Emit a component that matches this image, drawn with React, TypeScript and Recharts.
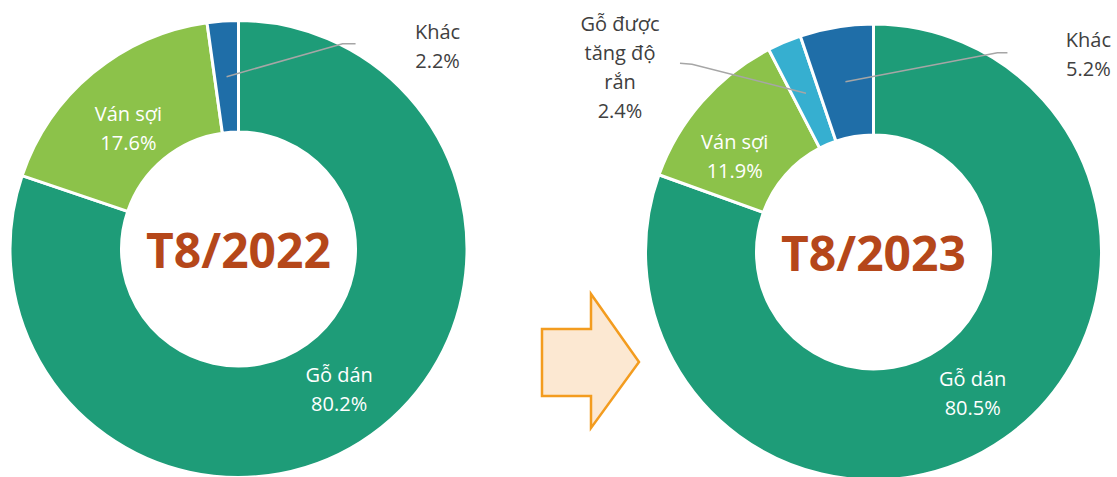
import React from 'react';
import { PieChart, Pie, Cell, Customized } from 'recharts';

// shares by product group, August of each year (%)
const categories2022 = ['Gỗ dán', 'Ván sợi', 'Khác'];
const shares2022 = [80.2, 17.6, 2.2];
const categories2023 = ['Gỗ dán', 'Ván sợi', 'Gỗ được tăng độ rắn', 'Khác'];
const shares2023 = [80.5, 11.9, 2.4, 5.2];
const periodTitles = ['T8/2022', 'T8/2023'];

const COLORS: Record<string, string> = {
  'Gỗ dán': '#1E9C78',
  'Ván sợi': '#8CC24A',
  'Gỗ được tăng độ rắn': '#36AFD0',
  'Khác': '#1F6EA8',
};

const FONT = '"Open Sans", sans-serif';
const LINE_H = 29;

// geometry of the two doughnuts
const GEOM = [
  { cx: 238.5, cy: 249, inner: 117, outer: 228.5 },
  { cx: 873.5, cy: 252, inner: 117, outer: 228 },
];

// label nudges (inside labels) and leader-line layout (outside labels)
type Place = { dx?: number; dy?: number; outside?: boolean; elbow?: [number, number]; end?: [number, number]; text?: [number, number] };
const place2022: Record<string, Place> = {
  'Ván sợi': { dy: 12 },
  'Khác': { outside: true, elbow: [116, -33], end: [129, -33], text: [211, -45] },
};
const place2023: Record<string, Place> = {
  'Ván sợi': { dx: -9, dy: 18 },
  'Gỗ được tăng độ rắn': { outside: true, elbow: [-114, -29], end: [-126, -30], text: [-186, -70] },
  'Khác': { outside: true, elbow: [152, -29], end: [162, -29], text: [243, -42] },
};

const toRows = (cats: string[], vals: number[]) => cats.map((name, i) => ({ name, value: vals[i] }));
const data2022 = toRows(categories2022, shares2022);
const data2023 = toRows(categories2023, shares2023);

const wrap = (s: string, max = 8) => {
  const out: string[] = [];
  let cur = '';
  s.split(' ').forEach((w) => {
    if (cur && (cur + ' ' + w).length > max) {
      out.push(cur);
      cur = w;
    } else cur = cur ? cur + ' ' + w : w;
  });
  if (cur) out.push(cur);
  return out;
};

const makeLabel = (places: Record<string, Place>) => (props: any) => {
  const { cx, cy, midAngle, innerRadius, outerRadius, name, value } = props;
  const RAD = Math.PI / 180;
  const r = (innerRadius + outerRadius) / 2;
  const ax = cx + r * Math.cos(-midAngle * RAD);
  const ay = cy + r * Math.sin(-midAngle * RAD);
  const p = places[name] || {};
  const lines = [...(p.outside ? wrap(name) : [name]), `${Number(value).toFixed(1)}%`];

  if (p.outside && p.elbow && p.end && p.text) {
    const tx = ax + p.text[0];
    const ty = ay + p.text[1];
    return (
      <g>
        <polyline
          points={`${ax},${ay} ${ax + p.elbow[0]},${ay + p.elbow[1]} ${ax + p.end[0]},${ay + p.end[1]}`}
          fill="none"
          stroke="#A6A6A6"
          strokeWidth={1.5}
        />
        {lines.map((l, i) => (
          <text key={i} x={tx} y={ty + i * LINE_H} textAnchor="middle" dominantBaseline="central"
            fill="#404040" fontFamily={FONT} fontSize={20}>
            {l}
          </text>
        ))}
      </g>
    );
  }
  const tx = ax + (p.dx || 0);
  const ty = ay + (p.dy || 0);
  return (
    <g>
      {lines.map((l, i) => (
        <text key={i} x={tx} y={ty + (i - (lines.length - 1) / 2) * LINE_H} textAnchor="middle"
          dominantBaseline="central" fill="#FFFFFF" fontFamily={FONT} fontSize={20}>
          {l}
        </text>
      ))}
    </g>
  );
};

const Decor = () => (
  <g>
    <path
      d="M542,329 L591,329 L591,294 L639,362 L591,428 L591,396 L542,396 Z"
      fill="#FCE8D2"
      stroke="#F39C1F"
      strokeWidth={2.5}
    />
    {GEOM.map((g, i) => (
      <text key={i} x={g.cx} y={g.cy} textAnchor="middle" dominantBaseline="central"
        fill="#B5471A" fontFamily={FONT} fontSize={48} fontWeight={700}>
        {periodTitles[i]}
      </text>
    ))}
  </g>
);

export default function App() {
  const pies = [
    { data: data2022, places: place2022 },
    { data: data2023, places: place2023 },
  ];
  return (
    <div style={{ position: 'absolute', left: 0, top: 0, width: 1117, height: 477, background: '#fff' }}>
      <PieChart width={1117} height={477} margin={{ top: 0, right: 0, bottom: 0, left: 0 }}>
        {pies.map((p, k) => (
          <Pie
            key={k}
            data={p.data}
            dataKey="value"
            nameKey="name"
            cx={GEOM[k].cx}
            cy={GEOM[k].cy}
            innerRadius={GEOM[k].inner}
            outerRadius={GEOM[k].outer}
            startAngle={90}
            endAngle={-270}
            stroke="#FFFFFF"
            strokeWidth={3}
            labelLine={false}
            label={makeLabel(p.places)}
            isAnimationActive={false}
          >
            {p.data.map((d) => (
              <Cell key={d.name} fill={COLORS[d.name]} />
            ))}
          </Pie>
        ))}
        <Customized component={Decor} />
      </PieChart>
    </div>
  );
}
